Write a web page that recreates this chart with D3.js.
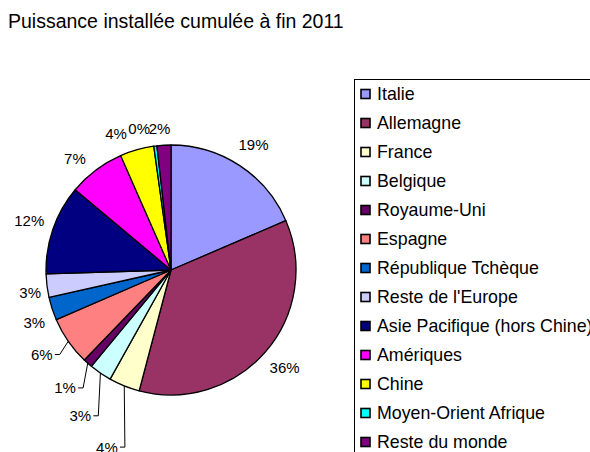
<!DOCTYPE html>
<html>
<head>
<meta charset="utf-8">
<style>
  body { margin: 0; background: #fff; }
  svg { display: block; font-family: "Liberation Sans", Arial, sans-serif; }
</style>
</head>
<body>
<svg></svg>
<script src="https://cdnjs.cloudflare.com/ajax/libs/d3/7.8.5/d3.min.js"></script>
<script>
const width = 590;
const height = 452;

// data
const regions = ['Italie', 'Allemagne', 'France', 'Belgique', 'Royaume-Uni', 'Espagne',
  'République Tchèque', "Reste de l'Europe", 'Asie Pacifique (hors Chine)', 'Amériques',
  'Chine', 'Moyen-Orient Afrique', 'Reste du monde'];
const shares = [18.55, 35.55, 4.0, 2.9, 1.2, 6.3, 3.0, 3.0, 11.6, 7.3, 4.4, 0.4, 1.8];
const colours = ['#9999ff', '#993366', '#ffffcc', '#ccffff', '#660066', '#ff8080',
  '#0066cc', '#ccccff', '#000080', '#ff00ff', '#ffff00', '#00ffff', '#800080'];

// label nudges for the crowded slices (dx, dy); leader line drawn for the bottom-left ones
const labelNudge = {
  'France': [-8, 38],
  'Belgique': [-6, 22],
  'Royaume-Uni': [-6, 6],
  'Espagne': [-6, -1],
  'République Tchèque': [6, 6],
  "Reste de l'Europe": [8, 4],
  'Amériques': [-6, 9],
  'Chine': [-14, 8],
  'Moyen-Orient Afrique': [-13, 7],
  'Reste du monde': [-3, 8]
};
const leaders = ['France', 'Belgique', 'Royaume-Uni', 'Espagne'];

const svg = d3.select('svg').attr('width', width).attr('height', height);

svg.append('text')
  .attr('x', 8).attr('y', 28)
  .attr('font-size', 19.5)
  .attr('fill', '#000')
  .text('Puissance installée cumulée à fin 2011');

const cx = 171, cy = 270, r = 125;
const color = d3.scaleOrdinal().domain(regions).range(colours);
const pie = d3.pie().sort(null).value(d => d.v);
const arcs = pie(regions.map((name, i) => ({ name: name, v: shares[i] })));
const arc = d3.arc().innerRadius(0).outerRadius(r);
const total = d3.sum(shares);
const fmt = v => Math.round(v / total * 100) + '%';

const g = svg.append('g').attr('transform', `translate(${cx},${cy})`);

g.selectAll('path.slice')
  .data(arcs)
  .enter().append('path')
  .attr('class', 'slice')
  .attr('d', arc)
  .attr('fill', d => color(d.data.name))
  .attr('stroke', '#000')
  .attr('stroke-width', 1.3)
  .attr('stroke-linejoin', 'round');

const labelR = 150;
arcs.forEach(d => {
  const a = (d.startAngle + d.endAngle) / 2;
  const nudge = labelNudge[d.data.name] || [0, 0];
  d.lx = Math.sin(a) * labelR + nudge[0];
  d.ly = -Math.cos(a) * labelR + nudge[1];
  d.edge = [Math.sin(a) * r, -Math.cos(a) * r];
});

// leader lines
g.selectAll('polyline.leader')
  .data(arcs.filter(d => leaders.includes(d.data.name)))
  .enter().append('polyline')
  .attr('class', 'leader')
  .attr('fill', 'none')
  .attr('stroke', '#000')
  .attr('stroke-width', 1)
  .attr('points', d => {
    const ex = d.lx + 13;
    return [[d.edge[0], d.edge[1]], [ex + 5, d.ly], [ex, d.ly]].map(p => p.join(',')).join(' ');
  });

g.selectAll('text.pct')
  .data(arcs)
  .enter().append('text')
  .attr('class', 'pct')
  .attr('x', d => d.lx)
  .attr('y', d => d.ly)
  .attr('text-anchor', 'middle')
  .attr('dy', '0.36em')
  .attr('font-size', 15)
  .attr('fill', '#000')
  .text(d => fmt(d.data.v));

// legend
const legend = svg.append('g').attr('transform', 'translate(354,79)');
legend.append('rect')
  .attr('x', 0.5).attr('y', 0.5)
  .attr('width', 300).attr('height', 400)
  .attr('fill', '#fff')
  .attr('stroke', '#000')
  .attr('stroke-width', 1);

const ly = d3.scalePoint().domain(regions).range([15, 363]);
const items = legend.selectAll('g.item')
  .data(regions)
  .enter().append('g')
  .attr('class', 'item')
  .attr('transform', d => `translate(0,${ly(d)})`);

items.append('rect')
  .attr('x', 7).attr('y', -4.5)
  .attr('width', 9).attr('height', 9)
  .attr('fill', d => color(d))
  .attr('stroke', '#000')
  .attr('stroke-width', 1.6);

items.append('text')
  .attr('x', 23)
  .attr('dy', '0.36em')
  .attr('font-size', 17.8)
  .attr('fill', '#000')
  .text(d => d);
</script>
</body>
</html>
